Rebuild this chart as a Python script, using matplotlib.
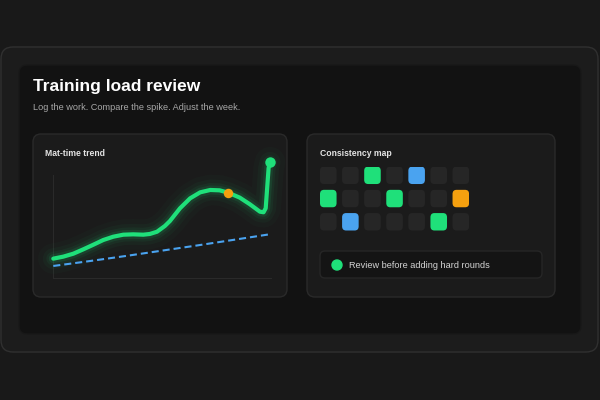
import matplotlib.pyplot as plt
from matplotlib.patches import FancyBboxPatch, Circle

plt.rcParams['font.family'] = ['Liberation Sans', 'DejaVu Sans']

# --- data ---
title = "Training load review"
subtitle = "Log the work. Compare the spike. Adjust the week."

trend_x = [0, 1.39, 2.78, 4.17, 5.56, 6.94, 8.33, 9.72, 11.1, 12.5, 13.4, 14.4, 15.5, 16.2,
           17.6, 19.0, 20.4, 21.8, 23.1, 24.3, 25.9, 27.3, 28.7, 29.2, 29.5, 29.7, 29.9, 30.1]
trend_y = [16.4, 18.1, 20.6, 24.3, 28.2, 32.2, 35.0, 36.7, 37.0, 36.7, 37.3, 39.2, 44.1, 48.3,
           59.1, 67.5, 72.6, 74.6, 74.3, 72.3, 68.1, 62.5, 56.2, 55.7, 59.1, 76.0, 93.0, 98.1]
base_x = [0, 5, 10, 15, 20, 25, 30]
base_y = [10.2, 14.3, 18.6, 23.1, 27.6, 32.3, 37.0]
flag_idx = 19

# 0 = rest, 1 = green, 2 = blue, 3 = orange
grid = [
    [0, 0, 1, 0, 2, 0, 0],
    [1, 0, 0, 1, 0, 0, 3],
    [0, 2, 0, 0, 0, 1, 0],
]
legend_text = "Review before adding hard rounds"

GREEN = '#1fe07a'
BLUE = '#4aa3f0'
ORANGE = '#f5a00f'
EMPTY = '#262626'
cell_colors = {0: EMPTY, 1: GREEN, 2: BLUE, 3: ORANGE}

W, H = 600, 400
fig = plt.figure(figsize=(6, 4), dpi=100, facecolor='#191919')

# background layer in pixel coordinates
bg = fig.add_axes([0, 0, 1, 1])
bg.set_xlim(0, W)
bg.set_ylim(H, 0)
bg.axis('off')


def box(x0, y0, x1, y1, fc, ec, r, lw=1.0, ax=bg, z=1):
    p = FancyBboxPatch((x0, y0), x1 - x0, y1 - y0,
                       boxstyle=f"round,pad=0,rounding_size={r}",
                       fc=fc, ec=ec, lw=lw, zorder=z)
    ax.add_patch(p)


box(1, 47, 598, 352, '#1c1c1c', '#303030', 12)
box(19, 65, 581, 334, '#121212', '#191919', 8)
box(33, 134, 287, 297, '#1b1b1b', '#2a2a2a', 8)
box(307, 134, 555, 297, '#1b1b1b', '#2a2a2a', 8)

bg.text(33, 87, title, color='white', fontsize=12.5, fontweight='bold', va='center')
bg.text(33, 107, subtitle, color='#a8a8a8', fontsize=6.6, va='center')
bg.text(45, 153, "Mat-time trend", color='#e4e4e4', fontsize=6.2, fontweight='bold', va='center')
bg.text(320, 153, "Consistency map", color='#e4e4e4', fontsize=6.2, fontweight='bold', va='center')

# legend strip
box(320, 251, 542, 278, '#141414', '#262626', 5)
bg.add_patch(Circle((337, 265), 5, color=GREEN, zorder=3))
bg.text(349, 265, legend_text, color='#d4d4d4', fontsize=6.6, va='center')

# --- trend chart ---
ax = fig.add_axes([53.3 / W, (H - 278) / H, 216 / W, 118 / H])
ax.set_xlim(0, 30)
ax.set_ylim(0, 100)
ax.axis('off')
ax.axvline(0, 0, 0.87, color='#2a2a2a', lw=0.8)
ax.axhline(0, 0, 1.01, color='#2a2a2a', lw=0.8, clip_on=False)

for lw, a in [(22, 0.025), (15, 0.04), (10, 0.06), (6.5, 0.1)]:
    ax.plot(trend_x, trend_y, color=GREEN, lw=lw, alpha=a, solid_capstyle='round',
            solid_joinstyle='round', clip_on=False)
ax.plot(trend_x, trend_y, color=GREEN, lw=3.0, solid_capstyle='round',
        solid_joinstyle='round', clip_on=False)
ax.plot(base_x, base_y, color=BLUE, lw=1.5, dashes=(3.4, 1.9), clip_on=False)
ax.plot(trend_x[flag_idx], trend_y[flag_idx], 'o', color=ORANGE, ms=6.8, mec='none',
        clip_on=False, zorder=5)
ax.plot(trend_x[-1], trend_y[-1], 'o', color=GREEN, ms=7.5, mec='none',
        clip_on=False, zorder=5)

# --- consistency grid ---
nrows, ncols = len(grid), len(grid[0])
gx = fig.add_axes([320 / W, (H - 230.5) / H, 21.3 * ncols / W, 21.3 * nrows / H])
gx.set_xlim(0, ncols - 0.25)
gx.set_ylim(nrows - 0.25, 0)
gx.axis('off')
for r, row in enumerate(grid):
    for c, v in enumerate(row):
        box(c, r, c + 0.75, r + 0.75, cell_colors[v], 'none', 0.18, lw=0, ax=gx, z=2)

fig.savefig('out.png', dpi=100, facecolor=fig.get_facecolor())
